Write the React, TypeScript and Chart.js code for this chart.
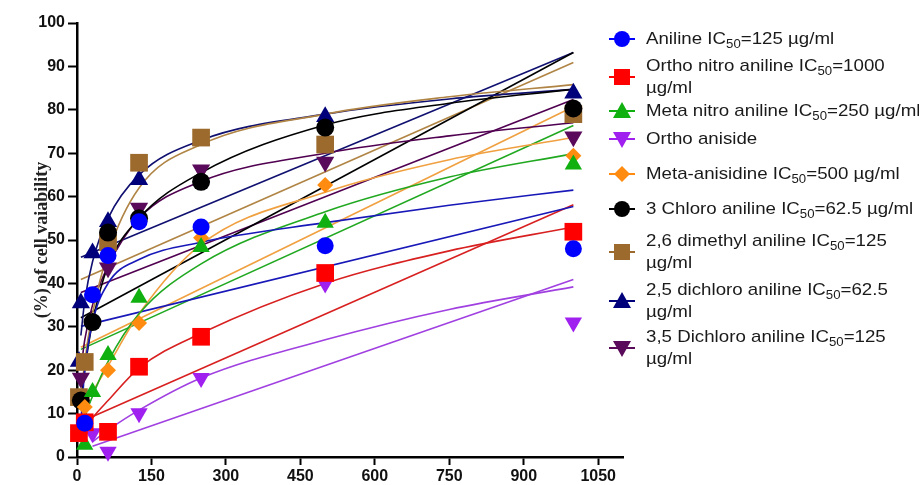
import React, { useEffect, useRef } from "react";
import { Chart, registerables } from "chart.js";

Chart.register(...registerables);

// ---- Data ----
const concentrations = [3.9, 7.8, 15.6, 31.25, 62.5, 125, 250, 500, 1000];

const anilinePts = [null, null, 7.8, 37.4, 46.4, 54.2, 53, 48.7, 48];
const orthoNitroPts = [5.5, null, 8, null, 5.8, 20.8, 27.7, 42.4, 51.9];
const metaNitroPts = [null, null, 2.8, 15, 23.5, 36.7, 48.4, 54, 67.4];
const orthoAnisidePts = [null, null, null, 5.5, 1.2, 10.1, 18.2, 40, 31];
const metaAnisidinePts = [null, null, 11.5, null, 20, 30.9, 50.5, 62.7, 69.4];
const chloro3Pts = [null, 13, null, 31.1, 51.7, 55, 63.4, 75.9, 80.3];
const dimethyl26Pts = [13.8, null, 21.9, null, 49.5, 67.8, 73.6, 72, 79];
const dichloro25Pts = [22, 35.5, null, 47, 54.2, 63.9, 73, 78.4, 83.8];
const dichloro35Pts = [null, 18.2, null, null, 43.6, 57.4, 66.2, 68, 73.8];

// nonlinear fitted curves
const curveX = [7.8, 15.6, 31.25, 62.5, 125, 250, 500, 750, 1000];
const anilineCurve = [8, 20, 31, 40, 45.5, 49.5, 54, 58, 61.5];
const orthoNitroCurve = [5, 6.5, 9, 13, 20.5, 28.5, 40, 47.5, 53];
const metaNitroCurve = [5, 9, 14, 22, 33, 44.5, 56.5, 64.5, 69.9];
const orthoAnisideCurve = [null, null, 3.5, 6.2, 10.8, 18.2, 27, 34, 39.2];
const metaAnisidineCurve = [9, 12, 15, 21, 33, 49, 61, 68.5, 73.6];
const chloro3Curve = [12, 20, 31, 44, 55, 65.5, 76.5, 81.5, 84.7];
const dimethyl26Curve = [13, 22, 33, 47, 62, 72, 79, 83, 85.8];
const dichloro25Curve = [28, 36, 45, 55, 65, 73, 79, 82.5, 84.7];
const dichloro35Curve = [20, 27, 35, 44, 55, 63.5, 70, 74, 77];

// straight (linear) fits: value at start and at 1000
const lineX = [7.8, 1000];
const anilineLine = [30.1, 57.7];
const orthoNitroLine = [8.1, 58.1];
const metaNitroLine = [24.8, 76.4];
const orthoAnisideLine = [2.5, 40.9];
const metaAnisidineLine = [25.3, 80.7];
const chloro3Line = [32.1, 93.2];
const dimethyl26Line = [40.9, 90.9];
const dichloro25Line = [46, 93.2];
const dichloro35Line = [37.9, 82.4];

const seriesNames = [
  "Aniline",
  "Ortho nitro aniline",
  "Meta nitro aniline",
  "Ortho aniside",
  "Meta-anisidine",
  "3 Chloro aniline",
  "2,6 dimethyl aniline",
  "2,5 dichloro aniline",
  "3,5 Dichloro aniline",
];
const xTicks = [0, 150, 300, 450, 600, 750, 900, 1050];

type Ser = {
  name: string;
  pts: (number | null)[];
  curve: (number | null)[];
  line: number[];
  color: string;
  lineColor: string;
  style: string;
  radius: number;
  rotation: number;
};

const SERIES: Ser[] = [
  { name: seriesNames[0], pts: anilinePts, curve: anilineCurve, line: anilineLine, color: "#0000ff", lineColor: "#1818b8", style: "circle", radius: 8.5, rotation: 0 },
  { name: seriesNames[1], pts: orthoNitroPts, curve: orthoNitroCurve, line: orthoNitroLine, color: "#ff0000", lineColor: "#d82020", style: "rect", radius: 12.5, rotation: 0 },
  { name: seriesNames[2], pts: metaNitroPts, curve: metaNitroCurve, line: metaNitroLine, color: "#10b010", lineColor: "#20a820", style: "triangle", radius: 10, rotation: 0 },
  { name: seriesNames[3], pts: orthoAnisidePts, curve: orthoAnisideCurve, line: orthoAnisideLine, color: "#a020f0", lineColor: "#a040e0", style: "triangle", radius: 10, rotation: 180 },
  { name: seriesNames[4], pts: metaAnisidinePts, curve: metaAnisidineCurve, line: metaAnisidineLine, color: "#ff8c10", lineColor: "#f0a040", style: "rectRot", radius: 8, rotation: 0 },
  { name: seriesNames[5], pts: chloro3Pts, curve: chloro3Curve, line: chloro3Line, color: "#000000", lineColor: "#000000", style: "circle", radius: 9, rotation: 0 },
  { name: seriesNames[6], pts: dimethyl26Pts, curve: dimethyl26Curve, line: dimethyl26Line, color: "#9c6a2c", lineColor: "#b08444", style: "rect", radius: 12.5, rotation: 0 },
  { name: seriesNames[7], pts: dichloro25Pts, curve: dichloro25Curve, line: dichloro25Line, color: "#00007a", lineColor: "#101070", style: "triangle", radius: 10.5, rotation: 0 },
  { name: seriesNames[8], pts: dichloro35Pts, curve: dichloro35Curve, line: dichloro35Line, color: "#5a0a5a", lineColor: "#500050", style: "triangle", radius: 10.5, rotation: 180 },
];

const LEGEND_ROWS: { lines: [string, string | null, string][]; y: number; my: number }[] = [
  { lines: [["Aniline IC", "50", "=125 µg/ml"]], y: 39, my: 39 },
  { lines: [["Ortho nitro aniline IC", "50", "=1000"], ["µg/ml", null, ""]], y: 66, my: 77 },
  { lines: [["Meta nitro aniline IC", "50", "=250 µg/ml"]], y: 111, my: 111 },
  { lines: [["Ortho aniside", null, ""]], y: 139, my: 139 },
  { lines: [["Meta-anisidine IC", "50", "=500 µg/ml"]], y: 174, my: 174 },
  { lines: [["3 Chloro aniline IC", "50", "=62.5 µg/ml"]], y: 209, my: 209 },
  { lines: [["2,6 dimethyl aniline IC", "50", "=125"], ["µg/ml", null, ""]], y: 241, my: 252 },
  { lines: [["2,5 dichloro aniline IC", "50", "=62.5"], ["µg/ml", null, ""]], y: 290, my: 301 },
  { lines: [["3,5 Dichloro aniline IC", "50", "=125"], ["µg/ml", null, ""]], y: 337, my: 348 },
];

function Marker({ s }: { s: Ser }) {
  const c = s.color;
  let shape: React.ReactNode = null;
  if (s.style === "circle") shape = <circle cx={16} cy={10} r={8} fill={c} />;
  else if (s.style === "rect") shape = <rect x={8} y={2} width={16} height={16} fill={c} />;
  else if (s.style === "rectRot") shape = <polygon points="16,2 24,10 16,18 8,10" fill={c} />;
  else if (s.style === "triangle" && s.rotation === 0) shape = <polygon points="16,1 25,17 7,17" fill={c} />;
  else shape = <polygon points="16,19 25,3 7,3" fill={c} />;
  return (
    <svg width={32} height={20} style={{ display: "block" }}>
      <line x1={3} y1={10} x2={29} y2={10} stroke={c} strokeWidth={2} />
      {shape}
    </svg>
  );
}

export default function App() {
  const ref = useRef<HTMLCanvasElement | null>(null);

  useEffect(() => {
    if (!ref.current) return;
    const datasets: any[] = [];
    SERIES.forEach((s, i) => {
      datasets.push({
        label: s.name,
        data: concentrations
          .map((x, k) => ({ x, y: s.pts[k] }))
          .filter((p) => p.y !== null),
        showLine: false,
        pointStyle: s.style,
        pointRadius: s.radius,
        pointRotation: s.rotation,
        pointBackgroundColor: s.color,
        pointBorderColor: s.color,
        pointBorderWidth: 0,
        order: i,
        clip: false,
      });
    });
    SERIES.forEach((s, i) => {
      datasets.push({
        label: s.name + " fit",
        data: curveX
          .map((x, k) => ({ x, y: s.curve[k] }))
          .filter((p) => p.y !== null),
        showLine: true,
        pointRadius: 0,
        borderColor: s.lineColor,
        borderWidth: 1.6,
        cubicInterpolationMode: "monotone",
        order: 100 + i,
      });
      datasets.push({
        label: s.name + " linear",
        data: lineX.map((x, k) => ({ x: i === 3 && k === 0 ? 31.25 : x, y: s.line[k] })),
        showLine: true,
        pointRadius: 0,
        borderColor: s.lineColor,
        borderWidth: 1.6,
        order: 200 + i,
      });
    });

    const tickFont = { family: "'Liberation Sans', Arial, sans-serif", weight: "bold" as const, size: 16 };
    const chart = new Chart(ref.current, {
      type: "scatter",
      data: { datasets },
      options: {
        animation: false,
        responsive: false,
        devicePixelRatio: 1,
        layout: { padding: { top: 23, right: 296, left: 0, bottom: 0 } },
        plugins: { legend: { display: false }, tooltip: { enabled: false } },
        scales: {
          x: {
            type: "linear",
            min: 0,
            max: 1100,
            afterBuildTicks: (scale: any) => {
              scale.ticks = xTicks.map((v) => ({ value: v }));
            },
            ticks: {
              font: tickFont,
              color: "#111",
              padding: 2,
              includeBounds: false,
              callback: (v: any) => String(v),
            },
            grid: { drawOnChartArea: false, drawTicks: true, tickLength: 8, tickWidth: 2, tickColor: "#000" },
            border: { color: "#000", width: 2.5 },
            afterFit: (scale: any) => {
              scale.height = 28;
            },
          },
          y: {
            min: 0,
            max: 100,
            ticks: { stepSize: 10, font: tickFont, color: "#111", padding: 3, callback: (v: any) => String(v) },
            grid: { drawOnChartArea: false, drawTicks: true, tickLength: 9, tickWidth: 2, tickColor: "#000" },
            border: { color: "#000", width: 2.5 },
            title: {
              display: true,
              text: "(%) of cell vaiability",
              font: { family: "'Liberation Serif', 'Times New Roman', serif", weight: "bold", size: 18 },
              color: "#222",
              padding: { top: 32, bottom: 0 },
            },
            afterFit: (scale: any) => {
              scale.width = 77;
            },
          },
        },
      } as any,
    });
    return () => chart.destroy();
  }, []);

  return (
    <div style={{ position: "absolute", left: 0, top: 0, width: 919, height: 485, background: "#fff", fontFamily: "'Liberation Sans', Arial, sans-serif" }}>
      <canvas ref={ref} width={919} height={485} style={{ position: "absolute", left: 0, top: 0, width: 919, height: 485 }} />
      {LEGEND_ROWS.map((row, i) => (
        <React.Fragment key={i}>
          <div style={{ position: "absolute", left: 606, top: row.my - 10 }}>
            <Marker s={SERIES[i]} />
          </div>
          {row.lines.map((ln, j) => (
            <div
              key={j}
              style={{
                position: "absolute",
                left: 646,
                top: row.y - 11 + j * 22,
                fontSize: 17,
                lineHeight: "22px",
                color: "#1a1a1a",
                whiteSpace: "nowrap",
                transform: "scaleX(1.1)",
                transformOrigin: "0 50%",
              }}
            >
              {ln[0]}
              {ln[1] ? <sub style={{ fontSize: 12, verticalAlign: "-4px", lineHeight: 0 }}>{ln[1]}</sub> : null}
              {ln[2]}
            </div>
          ))}
        </React.Fragment>
      ))}
    </div>
  );
}
